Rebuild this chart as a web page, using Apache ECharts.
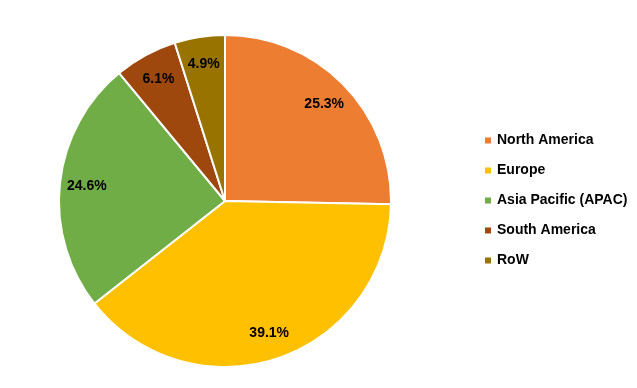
<!DOCTYPE html>
<html><head><meta charset="utf-8">
<script src="https://cdn.jsdelivr.net/npm/echarts@6/dist/echarts.min.js"></script>
<style>html,body{margin:0;padding:0;background:#fff}#c{width:637px;height:388px}</style>
</head><body><div id="c"></div>
<script>
const categories = ['North America', 'Europe', 'Asia Pacific (APAC)', 'South America', 'RoW'];
const values = [25.3, 39.1, 24.6, 6.1, 4.9];
const colors = ['#ED7D31', '#FFC000', '#70AD47', '#9E480E', '#997300'];

const data = categories.map((n, i) => ({ name: n, value: values[i], itemStyle: { color: colors[i] } }));
const chart = echarts.init(document.getElementById('c'), null, { renderer: 'canvas' });
chart.setOption({
  animation: false,
  legend: {
    orient: 'vertical', left: 478, top: 128,
    itemWidth: 8, itemHeight: 8, itemGap: 15,
    icon: 'rect',
    textStyle: { fontFamily: 'Liberation Sans', fontWeight: 'bold', fontSize: 14, color: '#000', lineHeight: 15 },
    data: categories
  },
  series: [{
    type: 'pie', center: [225, 201], radius: 166, startAngle: 90, clockwise: true,
    data: data,
    itemStyle: { borderColor: '#fff', borderWidth: 2 },
    label: { show: false }, labelLine: { show: false }, emphasis: { disabled: true }, silent: true
  }, {
    type: 'pie', center: [225, 201], radius: [106, 166], startAngle: 90, clockwise: true,
    data: data.map(d => ({ name: d.name, value: d.value, itemStyle: { color: 'transparent' } })),
    itemStyle: { borderWidth: 0 },
    label: { show: true, position: 'inside', formatter: p => p.value.toFixed(1) + '%', fontFamily: 'Liberation Sans', fontWeight: 'bold', fontSize: 14, color: '#000' },
    labelLine: { show: false }, emphasis: { disabled: true }, silent: true
  }]
});
</script></body></html>
